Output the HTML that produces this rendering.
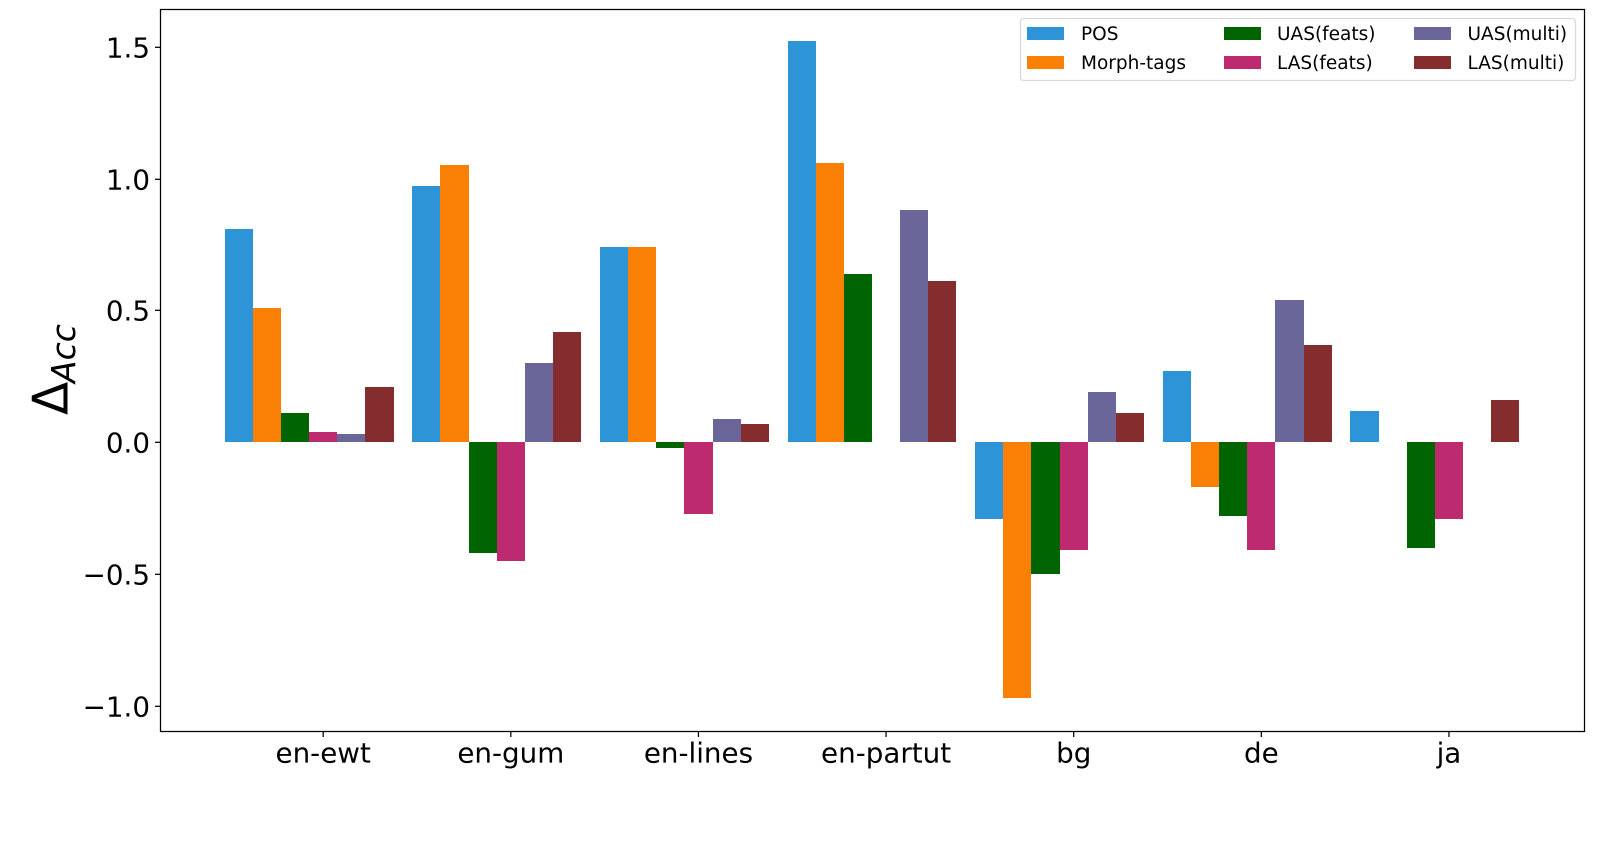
<!DOCTYPE html>
<html>
<head>
<meta charset="utf-8">
<title>Delta Acc bar chart</title>
<style>
html,body{margin:0;padding:0;background:#fff;width:1600px;height:860px;overflow:hidden}
svg{display:block}
text{font-family:"DejaVu Sans",sans-serif;fill:#000}
</style>
</head>
<body>
<svg id="chart" xmlns="http://www.w3.org/2000/svg" width="1600" height="860" viewBox="0 0 1600 860">
  <g id="bars"></g>
  <g id="axes"></g>
  <g>
    <text transform="translate(67.5,415) rotate(-90)" font-size="48.7">Δ</text>
    <text transform="translate(75,383) rotate(-90)" font-size="33" font-style="italic">Acc</text>
  </g>
  <g id="legend"></g>
</svg>
<script>
var categories = ["en-ewt", "en-gum", "en-lines", "en-partut", "bg", "de", "ja"];
var seriesNames = ["POS", "Morph-tags", "UAS(feats)", "LAS(feats)", "UAS(multi)", "LAS(multi)"];
var seriesColors = ["#2D94D8", "#FA8005", "#006400", "#BE2A70", "#6A6699", "#852D2E"];
var posValues = [0.81, 0.972, 0.74, 1.523, -0.29, 0.27, 0.12];
var morphValues = [0.51, 1.052, 0.74, 1.06, -0.97, -0.17, 0];
var uasFeatsValues = [0.11, -0.42, -0.022, 0.64, -0.50, -0.28, -0.40];
var lasFeatsValues = [0.04, -0.45, -0.272, 0, -0.41, -0.41, -0.29];
var uasMultiValues = [0.03, 0.30, 0.088, 0.88, 0.19, 0.54, 0];
var lasMultiValues = [0.21, 0.42, 0.07, 0.612, 0.11, 0.37, 0.16];
var yTicks = [-1, -0.5, 0, 0.5, 1, 1.5];
var yTickLabels = ["\u22121.0", "\u22120.5", "0.0", "0.5", "1.0", "1.5"];

var allSeries = [posValues, morphValues, uasFeatsValues, lasFeatsValues, uasMultiValues, lasMultiValues];
var NS = "http://www.w3.org/2000/svg";
var plotLeft = 160.5, plotRight = 1584.5, plotTop = 9.5, plotBottom = 731.5;
var groupStep = 187.63, firstTick = 323.18, barWidth = groupStep * 0.9 / 6;

function xScale(catIndex) { return firstTick + catIndex * groupStep; }
function yScale(v) { return 442.2 - 263.5 * v; }
function make(tag, attrs, parent) {
  var el = document.createElementNS(NS, tag);
  for (var k in attrs) { el.setAttribute(k, attrs[k]); }
  parent.appendChild(el);
  return el;
}

var barsGroup = document.getElementById("bars");
allSeries.forEach(function (values, s) {
  values.forEach(function (v, c) {
    var left = xScale(c) + (s - 3.5) * barWidth;
    var x0 = Math.round(left), x1 = Math.round(left + barWidth);
    var yv = yScale(v), y0 = yScale(0);
    var bar = make("rect", {
      x: x0, width: x1 - x0,
      y: Math.round(Math.min(yv, y0)),
      height: Math.round(Math.max(yv, y0)) - Math.round(Math.min(yv, y0)),
      fill: seriesColors[s]
    }, barsGroup);
    
    
  });
});

var axes = document.getElementById("axes");
var frame = make("rect", {
  x: plotLeft, y: plotTop, width: plotRight - plotLeft, height: plotBottom - plotTop,
  fill: "none", stroke: "#000", "stroke-width": 1.25
}, axes);



yTicks.forEach(function (t, i) {
  var y = Math.round(yScale(t)) + 0.3;
  var mark = make("line", { x1: plotLeft - 5.5, x2: plotLeft, y1: y, y2: y, stroke: "#000", "stroke-width": 1.25 }, axes);
  
  
  var label = make("text", { x: 150, y: y + 10, "text-anchor": "end", "font-size": 27.75 }, axes);
  label.textContent = yTickLabels[i];
  
  
});

categories.forEach(function (name, c) {
  var x = xScale(c);
  var mark = make("line", { x1: x, x2: x, y1: plotBottom, y2: plotBottom + 5.5, stroke: "#000", "stroke-width": 1.25 }, axes);
  
  
  var label = make("text", { x: x, y: 762.6, "text-anchor": "middle", "font-size": 27.75 }, axes);
  label.textContent = name;
  
  
});

var legend = document.getElementById("legend");
var legendBox = make("rect", {
  x: 1020.5, y: 18.5, width: 555, height: 62, rx: 3, ry: 3,
  fill: "#fff", "fill-opacity": 0.8, stroke: "#d9d9d9", "stroke-width": 1.25
}, legend);



var legendHandleX = [1027, 1224, 1414];
var legendTextX = [1081, 1277, 1467.5];
var legendRowY = [27, 56];
seriesNames.forEach(function (name, s) {
  var col = Math.floor(s / 2), row = s % 2;
  var swatch = make("rect", { x: legendHandleX[col], y: legendRowY[row], width: 37, height: 13, fill: seriesColors[s] }, legend);
  
  
  var text = make("text", { x: legendTextX[col], y: legendRowY[row] + 13, "font-size": 18.5 }, legend);
  text.textContent = name;
  
  
});
</script>
</body>
</html>
